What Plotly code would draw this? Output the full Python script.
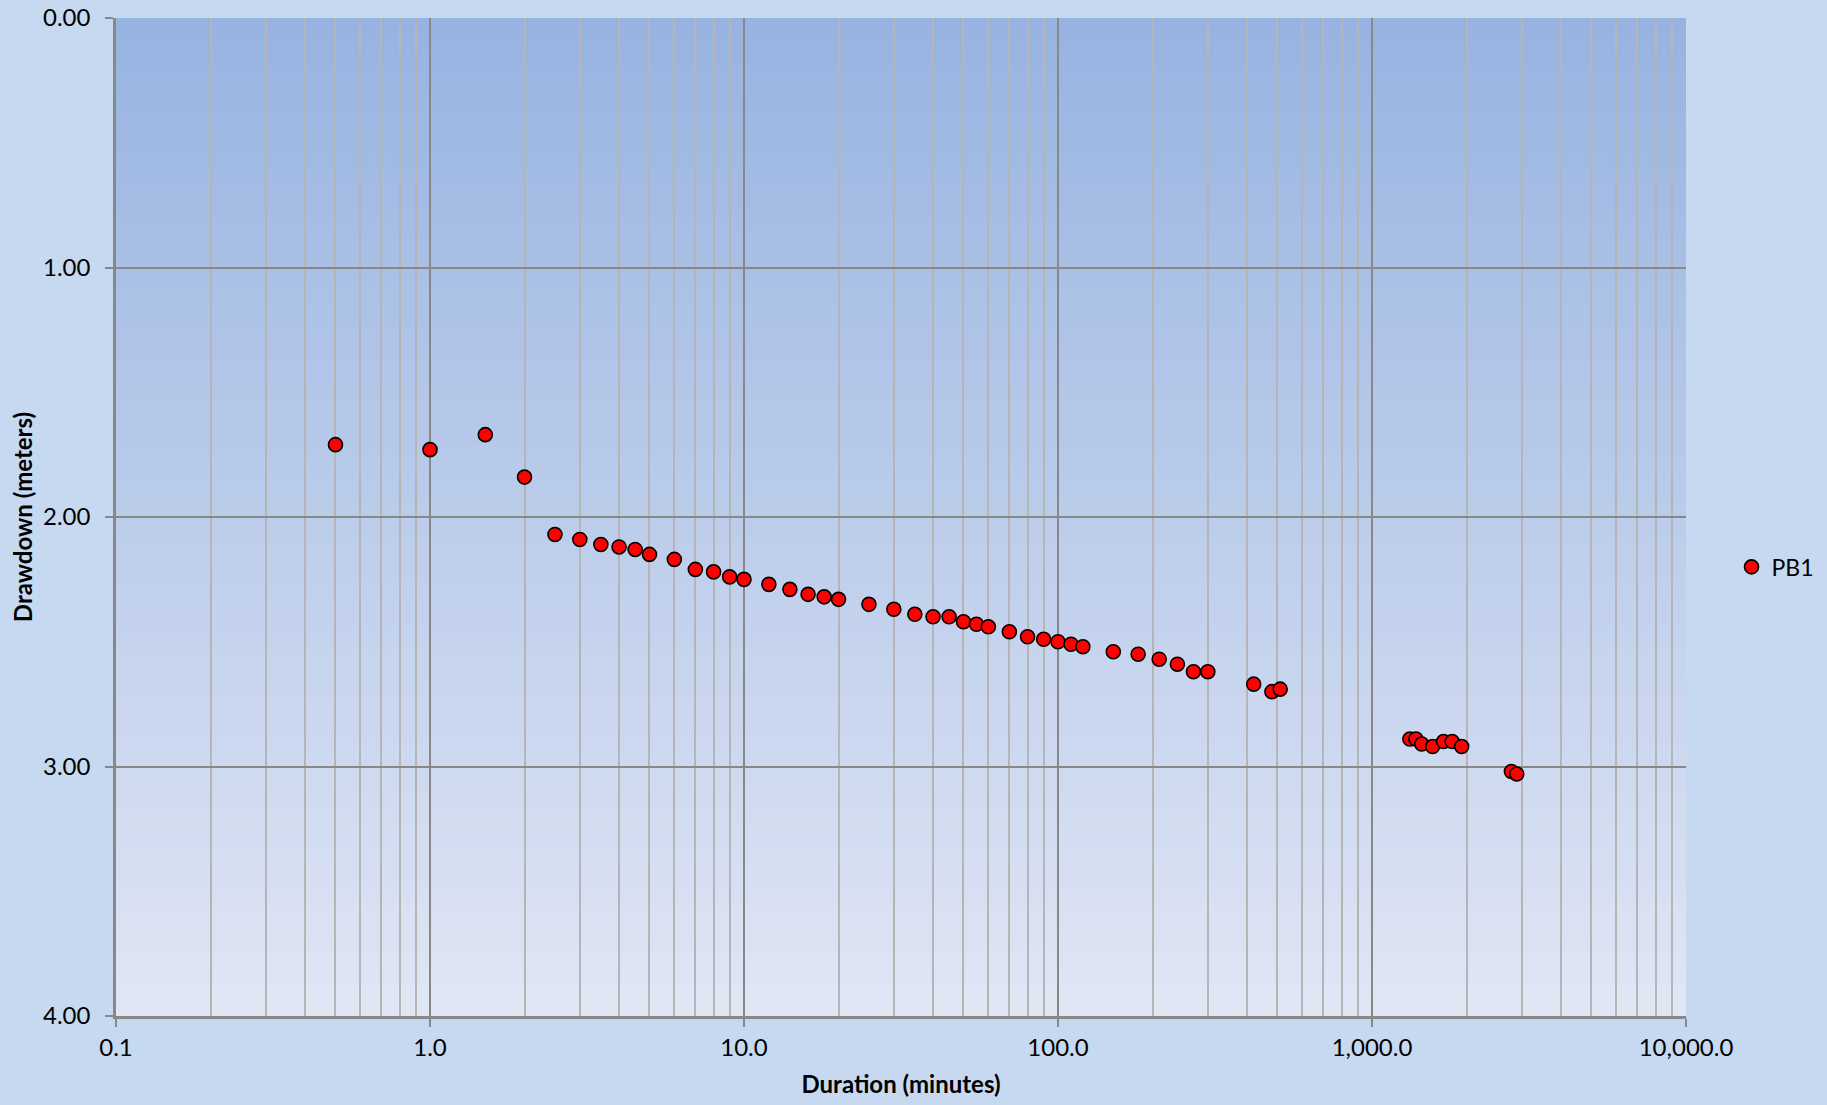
import plotly.graph_objects as go

# Pumping test observations for well PB1
duration_min = [0.5, 1.0, 1.5, 2.0, 2.5, 3.0, 3.5, 4.0, 4.5, 5.0, 6.0, 7.0, 8.0, 9.0, 10.0,
                12.0, 14.0, 16.0, 18.0, 20.0, 25.0, 30.0, 35.0, 40.0, 45.0, 50.0, 55.0, 60.0,
                70.0, 80.0, 90.0, 100.0, 110.0, 120.0, 150.0, 180.0, 210.0, 240.0, 270.0, 300.0,
                420.0, 480.0, 510.0,
                1320.0, 1380.0, 1440.0, 1560.0, 1690.0, 1800.0, 1930.0, 2780.0, 2890.0]
drawdown_m = [1.71, 1.73, 1.67, 1.84, 2.07, 2.09, 2.11, 2.12, 2.13, 2.15, 2.17, 2.21, 2.22, 2.24, 2.25,
              2.27, 2.29, 2.31, 2.32, 2.33, 2.35, 2.37, 2.39, 2.40, 2.40, 2.42, 2.43, 2.44,
              2.46, 2.48, 2.49, 2.50, 2.51, 2.52, 2.54, 2.55, 2.57, 2.59, 2.62, 2.62,
              2.67, 2.70, 2.69,
              2.89, 2.89, 2.91, 2.92, 2.90, 2.90, 2.92, 3.02, 3.03]

x_tickvals = [0.1, 1, 10, 100, 1000, 10000]
x_ticktext = ["0.1", "1.0", "10.0", "100.0", "1,000.0", "10,000.0"]
x_minor = [m * d for d in [0.1, 1, 10, 100, 1000] for m in range(2, 10)]

FONT = "Lato, 'Open Sans', sans-serif"
PAPER = "#c6d9f0"
TOP_RGB = (151, 179, 225)
BOTTOM_RGB = (224, 230, 244)

fig = go.Figure()
fig.add_trace(go.Scatter(
    x=duration_min, y=drawdown_m, mode="markers", name="PB1",
    marker=dict(size=14, color="#ff0000", line=dict(color="#000000", width=1.6)),
))

# vertical gradient behind the plot area, built from thin bands
n_bands = 120
shapes = []
for i in range(n_bands):
    t = i / (n_bands - 1)
    r = round(TOP_RGB[0] + (BOTTOM_RGB[0] - TOP_RGB[0]) * t)
    g = round(TOP_RGB[1] + (BOTTOM_RGB[1] - TOP_RGB[1]) * t)
    b = round(TOP_RGB[2] + (BOTTOM_RGB[2] - TOP_RGB[2]) * t)
    y1 = 1 - i / n_bands
    y0 = 1 - (i + 1) / n_bands
    shapes.append(dict(type="rect", xref="x domain", yref="y domain",
                       x0=0, x1=1, y0=y0 - 0.001, y1=y1,
                       fillcolor=f"rgb({r},{g},{b})", line=dict(width=0), layer="below"))

fig.update_layout(
    width=1827, height=1105,
    margin=dict(l=116, r=141, t=18, b=89, autoexpand=False),
    paper_bgcolor=PAPER,
    plot_bgcolor="rgba(0,0,0,0)",
    font=dict(family=FONT, size=24, color="#000000"),
    shapes=shapes,
    showlegend=True,
    legend=dict(x=1.029, y=0.45, xanchor="left", yanchor="middle",
                bgcolor="rgba(0,0,0,0)", font=dict(family=FONT, size=23)),
    xaxis=dict(
        type="log", range=[-1, 4],
        tickvals=x_tickvals, ticktext=x_ticktext,
        showgrid=True, gridcolor="#888888", gridwidth=1.6,
        showline=True, linecolor="#888888", linewidth=2.5, mirror=False,
        ticks="outside", ticklen=8, tickcolor="#888888", tickwidth=2,
        zeroline=False,
        minor=dict(tickvals=x_minor, showgrid=True, gridcolor="#b5b5b5", gridwidth=1.6, ticks=""),
        title=dict(text="<b>Duration (minutes)</b>", font=dict(family=FONT, size=24), standoff=17),
        tickfont=dict(family=FONT, size=24),
    ),
    yaxis=dict(
        range=[4, 0], dtick=1, tick0=0, tickformat=".2f",
        showgrid=True, gridcolor="#888888", gridwidth=1.6,
        showline=True, linecolor="#888888", linewidth=2.5,
        ticks="outside", ticklen=8, tickcolor="#888888", tickwidth=2,
        ticklabelstandoff=10,
        zeroline=False,
        title=dict(text="<b>Drawdown (meters)</b>", font=dict(family=FONT, size=24), standoff=4),
        tickfont=dict(family=FONT, size=24),
    ),
)

fig.write_html("out.html")
